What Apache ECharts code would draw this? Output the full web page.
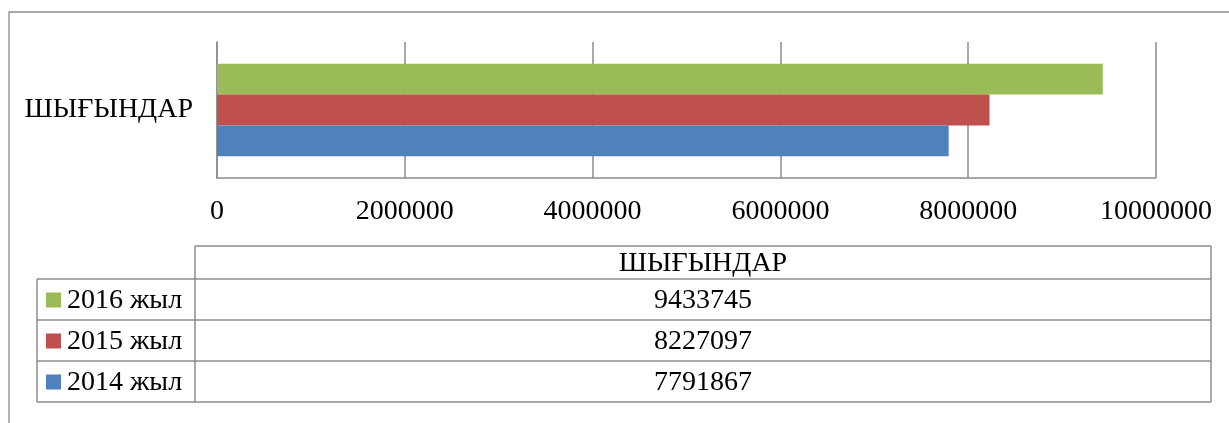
<!DOCTYPE html>
<html>
<head>
<meta charset="utf-8">
<script src="https://cdn.jsdelivr.net/npm/echarts@6/dist/echarts.min.js"></script>
<style>
html,body{margin:0;padding:0;background:#fff;}
#c{width:1229px;height:423px;}
</style>
</head>
<body>
<div id="c"></div>
<script>
const categories = ['ШЫҒЫНДАР'];
const seriesNames = ['2014 жыл', '2015 жыл', '2016 жыл'];
const values2014 = [7791867];
const values2015 = [8227097];
const values2016 = [9433745];
const seriesColors = ['#4f81bd', '#c0504d', '#9bbb59'];
const axisMax = 10000000;
const axisInterval = 2000000;

const FONT = '"Liberation Serif", "Times New Roman", serif';
const FS = 28;
const LINE = '#8c8c8c';
const seriesValues = [values2014, values2015, values2016];

const chart = echarts.init(document.getElementById('c'), null, {renderer: 'canvas'});

// Data table geometry
const tbl = {x0: 37, x1: 195, x2: 1211, yHead: 246, rowH: 41, headH: 33};
const g = [];
g.push({type: 'rect', shape: {x: 9, y: 12, width: 1260, height: 440}, style: {fill: 'none', stroke: LINE, lineWidth: 1.3}, silent: true});
const yRows0 = tbl.yHead + tbl.headH;
const nRows = seriesNames.length;
const yEnd = yRows0 + nRows * tbl.rowH;
g.push({type: 'line', shape: {x1: tbl.x1, y1: tbl.yHead, x2: tbl.x2, y2: tbl.yHead}, style: {stroke: LINE, lineWidth: 1.5}});
g.push({type: 'line', shape: {x1: tbl.x1, y1: tbl.yHead, x2: tbl.x1, y2: yEnd}, style: {stroke: LINE, lineWidth: 1.5}});
g.push({type: 'line', shape: {x1: tbl.x2, y1: tbl.yHead, x2: tbl.x2, y2: yEnd}, style: {stroke: LINE, lineWidth: 1.5}});
g.push({type: 'line', shape: {x1: tbl.x0, y1: yRows0, x2: tbl.x0, y2: yEnd}, style: {stroke: LINE, lineWidth: 1.5}});
for (let i = 0; i <= nRows; i++) {
  const y = yRows0 + i * tbl.rowH;
  g.push({type: 'line', shape: {x1: tbl.x0, y1: y, x2: tbl.x2, y2: y}, style: {stroke: LINE, lineWidth: 1.5}});
}
const cx = (tbl.x1 + tbl.x2) / 2;
g.push({type: 'text', x: cx, y: tbl.yHead + tbl.headH / 2 + 1, style: {text: categories[0], font: FS + 'px ' + FONT, fill: '#000', align: 'center', verticalAlign: 'middle'}});
for (let r = 0; r < nRows; r++) {
  const si = nRows - 1 - r;
  const yc = yRows0 + r * tbl.rowH + tbl.rowH / 2 + 1;
  g.push({type: 'rect', shape: {x: 46, y: yc - 8, width: 15, height: 15}, style: {fill: seriesColors[si]}});
  g.push({type: 'text', x: 67, y: yc, style: {text: seriesNames[si], font: FS + 'px ' + FONT, fill: '#000', align: 'left', verticalAlign: 'middle'}});
  g.push({type: 'text', x: cx, y: yc, style: {text: String(seriesValues[si][0]), font: FS + 'px ' + FONT, fill: '#000', align: 'center', verticalAlign: 'middle'}});
}

// series drawn top-to-bottom: 2016, 2015, 2014
const order = [2, 1, 0];
const option = {
  animation: false,
  backgroundColor: '#fff',
  grid: {left: 217, right: 73, top: 42, height: 136, containLabel: false},
  xAxis: {
    type: 'value', min: 0, max: axisMax, interval: axisInterval,
    axisLine: {show: true, lineStyle: {color: LINE, width: 1.5}},
    axisTick: {show: false},
    splitLine: {show: true, lineStyle: {color: LINE, width: 1.5}},
    axisLabel: {fontFamily: FONT, fontSize: FS, color: '#000', margin: 20, formatter: v => String(v)}
  },
  yAxis: {
    type: 'category', data: categories,
    axisLine: {show: true, lineStyle: {color: LINE, width: 1.5}},
    axisTick: {show: false},
    axisLabel: {fontFamily: FONT, fontSize: FS, color: '#000', margin: 24}
  },
  series: order.map(i => ({
    name: seriesNames[i], type: 'bar', data: seriesValues[i],
    itemStyle: {color: seriesColors[i]},
    barGap: '0%', barCategoryGap: '32%'
  })),
  graphic: g
};
chart.setOption(option);
</script>
</body>
</html>
